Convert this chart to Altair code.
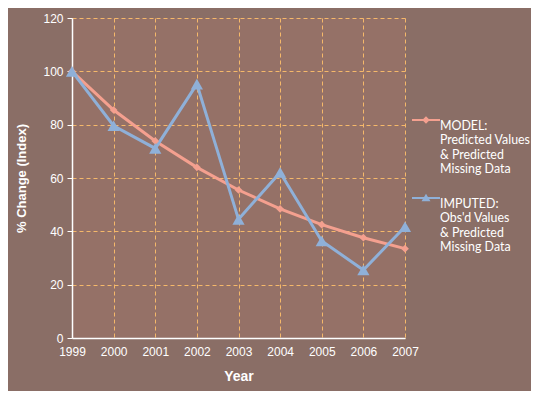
import altair as alt
import pandas as pd

years = [1999, 2000, 2001, 2002, 2003, 2004, 2005, 2006, 2007]
model = [100, 85.5, 73.9, 64.0, 55.5, 48.4, 42.5, 37.6, 33.5]
imputed = [100, 79.6, 71.1, 95.2, 44.5, 62.1, 36.4, 25.5, 41.7]
series_names = ["MODEL:|Predicted Values|& Predicted|Missing Data",
                "IMPUTED:|Obs'd Values|& Predicted|Missing Data"]
colors = ["#F4A08F", "#8FB0D8"]

rows = []
for y, m, i in zip(years, model, imputed):
    rows.append({"Year": y, "Value": m, "Series": series_names[0]})
    rows.append({"Year": y, "Value": i, "Series": series_names[1]})
df = pd.DataFrame(rows)

FONT = "Liberation Sans"
LINE_PATH = "M-1,-0.08H1V0.08H-1Z"
DIAMOND_SYM = LINE_PATH + " M0,-0.27L0.27,0L0,0.27L-0.27,0Z"
TRIANGLE_SYM = LINE_PATH + " M0,-0.3L0.32,0.24L-0.32,0.24Z"

color_scale = alt.Scale(domain=series_names, range=colors)
legend_shape_scale = alt.Scale(domain=series_names, range=[DIAMOND_SYM, TRIANGLE_SYM])

legend = alt.Legend(title=None, orient="none", legendX=340, legendY=88,
                    labelExpr="split(datum.label, '|')",
                    labelFontSize=12.4, labelColor="#FFFFFF", labelFont="Lato",
                    symbolStrokeWidth=0, symbolSize=784, symbolOpacity=1,
                    rowPadding=8, labelLimit=200, labelBaseline="top",
                    labelOffset=0)

base = alt.Chart(df).encode(
    x=alt.X("Year:Q",
            scale=alt.Scale(domain=[1999, 2007], nice=False, zero=False),
            axis=alt.Axis(title="Year", values=years, format="d", labelFlush=False,
                          labelFontSize=12, titleFontSize=14, titleFontWeight="bold",
                          titlePadding=12, labelPadding=8, tickSize=0)),
    y=alt.Y("Value:Q",
            scale=alt.Scale(domain=[0, 120], nice=False),
            axis=alt.Axis(title="% Change (Index)", values=[0, 20, 40, 60, 80, 100, 120],
                          labelFlush=False,
                          labelFontSize=12, titleFontSize=13, titleFontWeight="bold",
                          titlePadding=14, tickSize=5, labelPadding=4)),
    color=alt.Color("Series:N", scale=color_scale, legend=legend),
)

lines = base.mark_line(strokeWidth=3)
pts_model = base.transform_filter(alt.datum.Series == series_names[0]).mark_point(
    filled=True, size=60, opacity=1, shape="diamond")
pts_imp = base.transform_filter(alt.datum.Series == series_names[1]).mark_point(
    filled=True, size=150, opacity=1, shape="triangle-up")
legend_layer = base.mark_point(filled=True, opacity=0).encode(
    shape=alt.Shape("Series:N", scale=legend_shape_scale, legend=legend))

chart = alt.layer(lines, pts_model, pts_imp, legend_layer).properties(
    width=333, height=320,
    background="#8A6E66",
    autosize=alt.AutoSizeParams(type="none"),
    padding={"left": 64, "top": 10, "right": 126, "bottom": 53},
).configure_view(
    fill="#957167", stroke=None
).configure_axis(
    gridColor="#F5B86A", gridDash=[4, 3], gridWidth=1, gridOpacity=1,
    domainColor="#FFFFFF", domainWidth=1.5, tickColor="#FFFFFF",
    labelColor="#FFFFFF", titleColor="#FFFFFF", labelFont=FONT, titleFont=FONT,
)

chart.save("out.html", embed_options={"renderer": "svg", "actions": False})
